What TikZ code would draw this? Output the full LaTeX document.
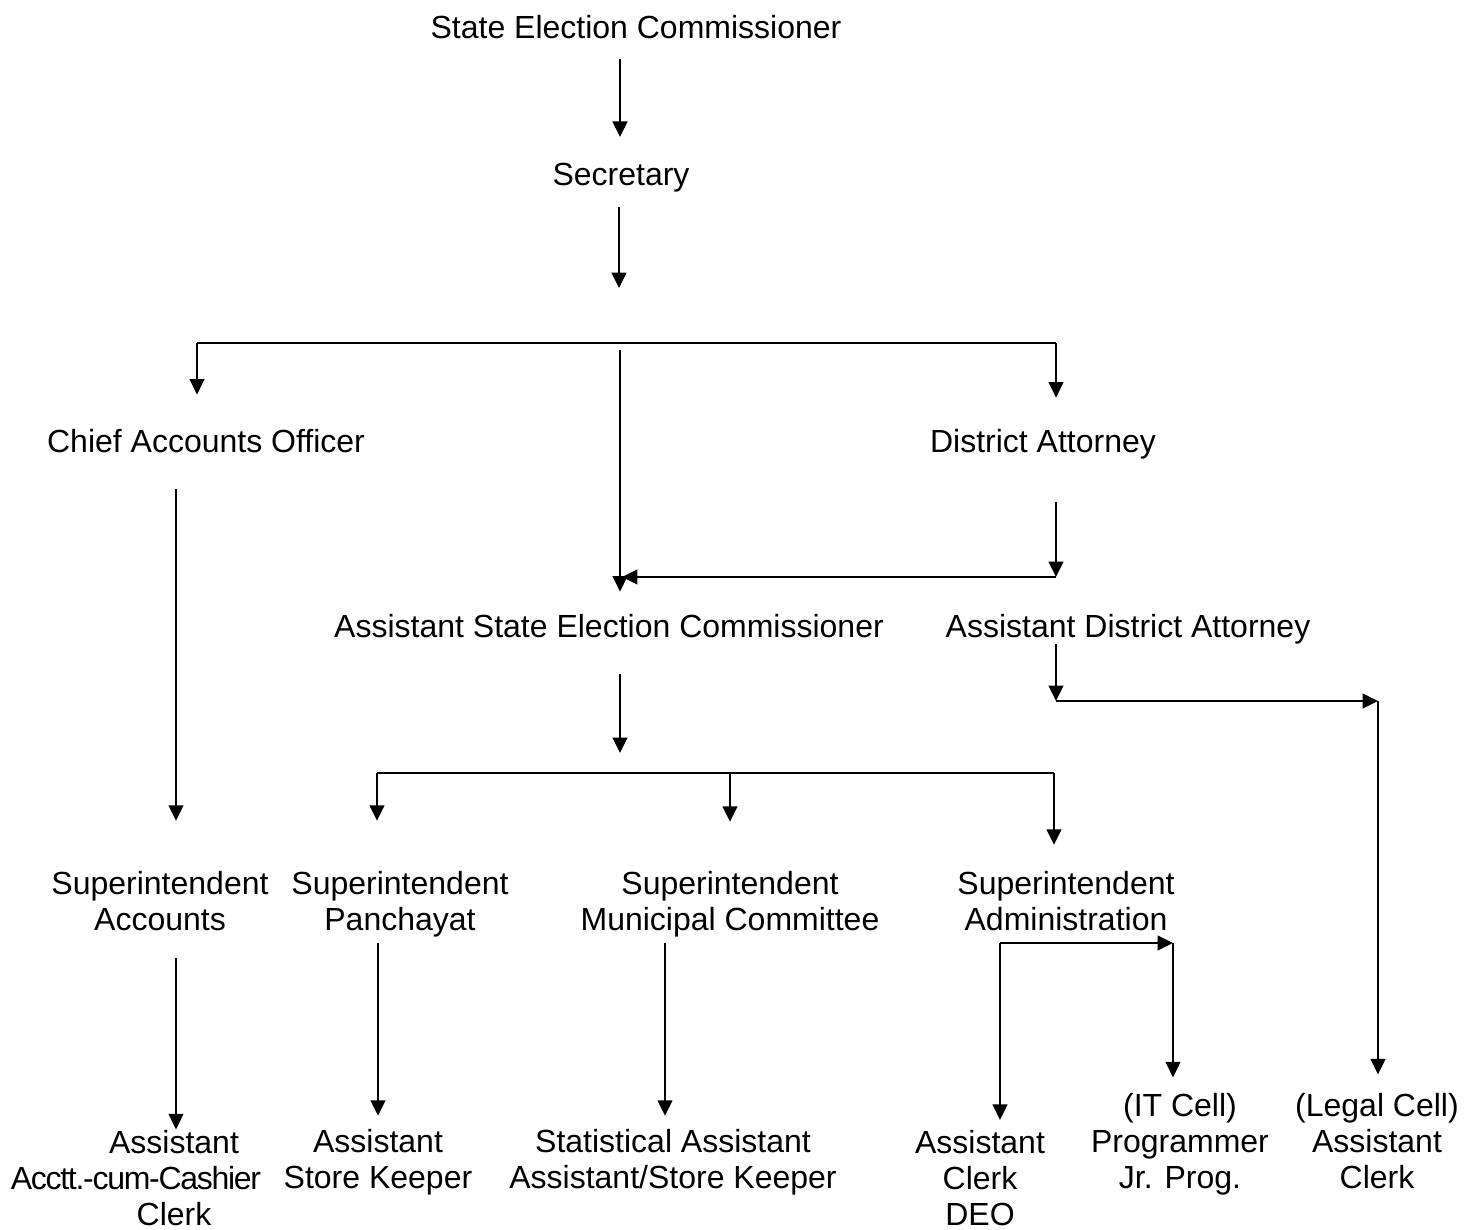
\documentclass[tikz,border=0pt]{standalone}
\usepackage{fontspec}
\setmainfont{Liberation Sans}
\usetikzlibrary{arrows.meta}

\tikzset{
  post/.style={anchor=base, inner sep=0pt, align=center, font=\fontsize{9.1}{10.2}\selectfont},
  wire/.style={line width=0.55pt},
  arr/.style={wire, -{Triangle[length=4.4pt,width=4.2pt]}}
}

\begin{document}
\begin{tikzpicture}[x=0.01cm,y=-0.01cm]
\useasboundingbox (0,0) rectangle (1466,1229);
% posts (multi-line posts sit on the baseline of their last line)
\node[post] (sec) at (636,38) {State Election Commissioner};
\node[post] (secy) at (621,185) {Secretary};
\node[post] (cao) at (206,452) {Chief Accounts Officer};
\node[post] (da) at (1043,452) {District Attorney};
\node[post] (asec) at (609,637) {Assistant State Election Commissioner};
\node[post] (ada) at (1128,637) {Assistant District Attorney};
\node[post] (supacc) at (160,930) {Superintendent\\Accounts};
\node[post] (suppan) at (400,930) {Superintendent\\Panchayat};
\node[post] (supmun) at (730,930) {Superintendent\\Municipal Committee};
\node[post] (supadm) at (1066,930) {Superintendent\\Administration};
\node[post] (asstacc) at (174,1225) {Assistant\\{\addfontfeatures{LetterSpace=-4}Acctt.-cum-Cashier}\rule{0.76cm}{0pt}\\Clerk};
\node[post] (asstsk) at (378,1188) {Assistant\\Store Keeper};
\node[post] (stat) at (673,1188) {Statistical Assistant\\Assistant/Store Keeper};
\node[post] (asstclk) at (980,1225) {Assistant\\Clerk\\DEO};
\node[post] (itcell) at (1180,1188) {(IT Cell)\\Programmer\\Jr. Prog.};
\node[post] (legal) at (1377,1188) {(Legal Cell)\\Assistant\\Clerk};

% columns and junctions
\coordinate (colS) at (620,0);
\coordinate (colA) at (176,0);
\coordinate (colP) at (378,0);
\coordinate (colM) at (665,0);
\coordinate (secJ) at (619,288);
\coordinate (busL) at (197,343);
\coordinate (busM) at (620,350);
\coordinate (busR) at (1056,343);
\coordinate (daJ) at (1056,577);
\coordinate (aseJ) at (620,753);
\coordinate (sbL) at (377,773);
\coordinate (sbM) at (730,773);
\coordinate (sbR) at (1054,773);
\coordinate (adaJ) at (1056,701);
\coordinate (legJ) at (1378,701);
\coordinate (admL) at (1000,943);
\coordinate (admR) at (1173,943);

% connectors
\draw[arr, shorten <=0.2cm, shorten >=0.25cm] (sec.south -| colS) -- (secy.north -| colS);
\draw[arr, shorten <=0.15cm] (secy.south -| secJ) -- (secJ);
\draw[wire] (busL) -- (busR);
\draw[arr, shorten >=0.335cm] (busL) -- (cao.north -| busL);
\draw[arr, shorten >=0.305cm] (busR) -- (da.north -| busR);
\draw[arr, shorten >=0.215cm] (busM) -- (asec.north -| busM);
\draw[arr, shorten <=0.43cm] (da.south -| daJ) -- (daJ);
\draw[arr, shorten >=0.02cm] (daJ) -- (daJ -| busM);
\draw[arr, shorten <=0.36cm, shorten >=0.495cm] (cao.south -| colA) -- (supacc.north -| colA);
\draw[arr, shorten <=0.36cm] (asec.south -| aseJ) -- (aseJ);
\draw[wire] (sbL) -- (sbR);
\draw[arr, shorten >=0.495cm] (sbL) -- (suppan.north -| sbL);
\draw[arr, shorten >=0.485cm] (sbM) -- (supmun.north -| sbM);
\draw[arr, shorten >=0.255cm] (sbR) -- (supadm.north -| sbR);
\draw[arr] (ada.south -| adaJ) -- (adaJ);
\draw[arr] (adaJ) -- (legJ);
\draw[arr, shorten >=0.18cm] (legJ) -- (legal.north -| legJ);
\draw[arr, shorten <=0.27cm] (supacc.south -| colA) -- (asstacc.north -| colA);
\draw[arr, shorten <=0.06cm, shorten >=0.125cm] (suppan.south -| colP) -- (asstsk.north -| colP);
\draw[arr, shorten <=0.06cm, shorten >=0.125cm] (supmun.south -| colM) -- (stat.north -| colM);
\draw[arr] (admL) -- (admR);
\draw[arr, shorten >=0.095cm] (admL) -- (asstclk.north -| admL);
\draw[arr, shorten >=0.15cm] (admR) -- (itcell.north -| admR);
\end{tikzpicture}
\end{document}
